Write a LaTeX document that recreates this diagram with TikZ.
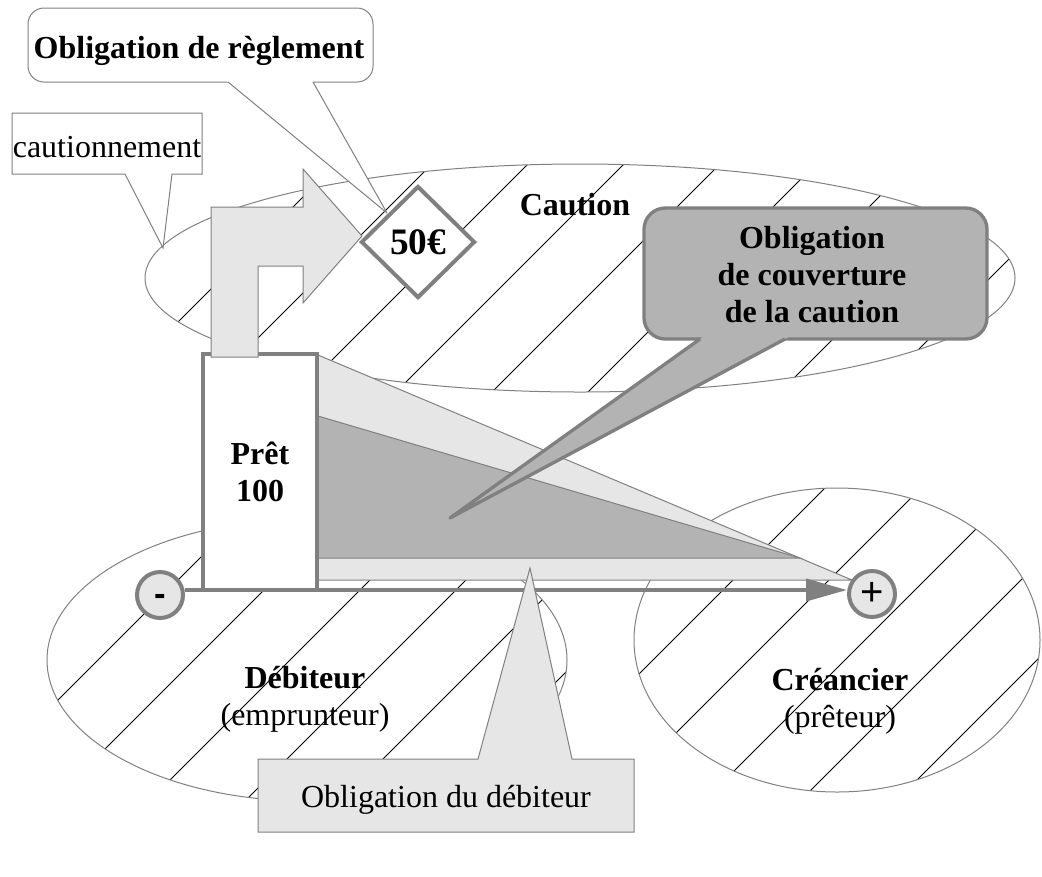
\documentclass[tikz,border=0pt]{standalone}
\usepackage{fontspec}
\setmainfont{Liberation Serif}
\newfontfamily\signfont{Liberation Sans}
\usetikzlibrary{shapes.geometric,arrows.meta}
\definecolor{edgeg}{HTML}{808080}
\definecolor{paleg}{HTML}{E6E6E6}
\definecolor{midg}{HTML}{B3B3B3}
\begin{document}
\begin{tikzpicture}[x=0.75pt,y=-0.75pt,
  txt/.style={font=\fontsize{24}{27.6}\selectfont, inner sep=0pt, outer sep=0pt},
  bold/.style={txt, font=\fontsize{24}{27.6}\selectfont\bfseries},
  thinline/.style={draw=edgeg, line width=0.75pt},
  thickline/.style={draw=edgeg, line width=2.5pt},
  hatch/.style={black, line width=0.6pt},
  sign/.style={circle, draw=edgeg, line width=3pt, fill=paleg, minimum size=34.5pt, inner sep=0pt}]
\useasboundingbox (0,0) rectangle (1042,876);

% --- hatched zones: surety, debtor, creditor
\begin{scope}
  \clip (580,278) ellipse [x radius=435, y radius=114];
  \foreach \c in {20,116,...,2000} \draw[hatch] (\c,0) -- ++(-900,900);
\end{scope}
\draw[thinline] (580,278) ellipse [x radius=435, y radius=114];

\begin{scope}
  \clip (307,660) ellipse [x radius=260, y radius=141];
  \foreach \c in {86,182,...,2100} \draw[hatch] (\c,0) -- ++(-900,900);
\end{scope}
\draw[thinline] (307,660) ellipse [x radius=260, y radius=141];

\begin{scope}
  \clip (837,640) ellipse [x radius=203, y radius=152];
  \foreach \c in {65,161,...,2200} \draw[hatch] (\c,0) -- ++(-900,900);
\end{scope}
\draw[thinline] (837,640) ellipse [x radius=203, y radius=152];

% --- decreasing obligations
\filldraw[fill=paleg, thinline] (318,355) -- (852,580) -- (318,580) -- cycle;
\filldraw[fill=midg, thinline] (318,416) -- (800,558) -- (318,558) -- cycle;

% --- the loan
\node[draw=edgeg, line width=2.5pt, fill=white, minimum width=85.5pt, minimum height=177pt,
      inner sep=0pt, outer sep=0pt, align=center, font=\fontsize{24}{27.6}\selectfont\bfseries]
      (loan) at (260,472) {Prêt\\100};

% --- bent arrow towards the surety
\filldraw[fill=paleg, thinline] (211,357) -- (211,207) -- (303,207) -- (303,169) -- (362,236)
  -- (303,303) -- (303,266) -- (258,266) -- (258,357) -- cycle;

\node[diamond, draw=edgeg, line width=3pt, fill=white, minimum width=85.5pt, minimum height=84pt,
      inner sep=0pt, font=\fontsize{28}{30}\selectfont\bfseries] (amount) at (418,242) {50€};

% --- callouts
\filldraw[fill=white, thinline] (12,113) -- (202,113) -- (202,174) -- (172,174) -- (163,248)
  -- (125,174) -- (12,174) -- cycle;
\node[txt, anchor=base] (bond) at (107,157) {cautionnement};

\filldraw[fill=white, thinline, rounded corners=12pt] (28,8) rectangle (373,82);
\fill[white] (225.6,80) -- (387,213) -- (311.9,80) -- cycle;
\draw[thinline, line join=round] (228,82) -- (387,213) -- (313,82);
\node[bold, anchor=base] (settle) at (199,58) {Obligation de règlement};

\filldraw[fill=midg, thickline, rounded corners=16pt] (644,208) rectangle (987,339);
\fill[midg] (705.6,335) -- (450,518) -- (792.5,335) -- cycle;
\draw[thickline, line join=round] (700,339) -- (450,518) -- (785,339);
% multi-line nodes sit on the baseline of their last line
\node[bold, align=center, anchor=base] (cover) at (812,322) {Obligation\\de couverture\\de la caution};

% --- axis from debtor to creditor
\node[sign] (minus) at (160,595) {\raisebox{-8pt}[0pt][0pt]{\signfont\bfseries\fontsize{26}{26}\selectfont -}};
\node[sign] (plus) at (872,594) {\signfont\fontsize{30}{30}\selectfont +};
\draw[edgeg, line width=3pt, -{Triangle[length=30.75pt, width=16.5pt]}]
  (minus.east |- loan.south) -- (plus.west |- loan.south);

\filldraw[fill=paleg, thinline] (258,759) -- (478,759) -- (530,568) -- (572,759) -- (634,759)
  -- (634,832) -- (258,832) -- cycle;
\node[txt, anchor=base] (debt) at (446,807) {Obligation du débiteur};

% --- zone labels
\node[bold, anchor=base] (surety) at (575,215) {Caution};
\node[txt, align=center, anchor=base] (debtor) at (305,725) {\textbf{Débiteur}\\(emprunteur)};
\node[txt, align=center, anchor=base] (creditor) at (840,727) {\textbf{Créancier}\\(prêteur)};
\end{tikzpicture}
\end{document}
